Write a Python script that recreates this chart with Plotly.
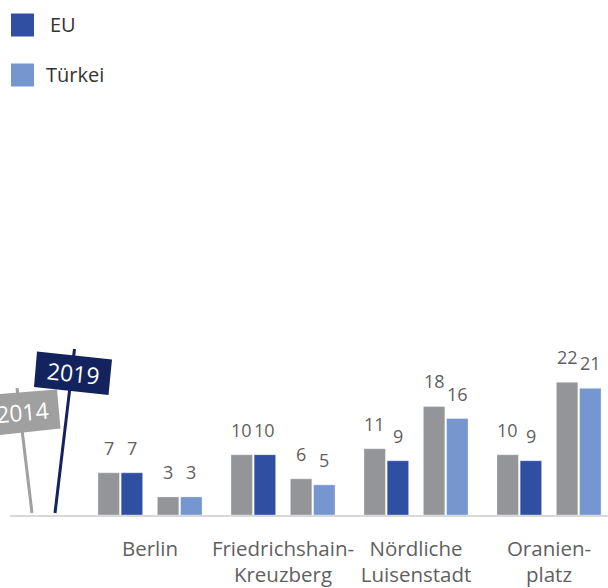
import plotly.graph_objects as go

# ---------------- data ----------------
categories = ["Berlin", "Friedrichshain-<br>Kreuzberg", "Nördliche<br>Luisenstadt", "Oranien-<br>platz"]
eu_2014 = [7, 10, 11, 10]
eu_2019 = [7, 10, 9, 9]
tr_2014 = [3, 6, 18, 22]
tr_2019 = [3, 5, 16, 21]
legend_labels = ["EU", "Türkei"]
sign_labels = ["2014", "2019"]

# ---------------- styling ----------------
W, H = 608, 588
GRAY = "#939598"
DARK = "#2f4fa3"
LIGHT = "#7596cf"
NAVY = "#13235e"
SIGN_GRAY = "#a0a0a0"
TXT = "#5f5f5f"
FONT = "Open Sans"

PX_PER_GROUP = 133.0
GROUP0_PX = 150.0
BASE_PX = 515.0
TOP_PX = 90.0
PX_PER_UNIT = 6.03

pair_off = 29.7 / PX_PER_GROUP
bar_off = 11.6 / PX_PER_GROUP
bar_w = 21.5 / PX_PER_GROUP


def xp(px):
    return px / W


def yp(py):
    return 1 - py / H


groups = list(range(len(categories)))
series = [
    (eu_2014, -pair_off - bar_off, GRAY),
    (eu_2019, -pair_off + bar_off, DARK),
    (tr_2014, pair_off - bar_off, GRAY),
    (tr_2019, pair_off + bar_off, LIGHT),
]

fig = go.Figure()
annotations = []
for vals, off, col in series:
    xs = [g + off for g in groups]
    fig.add_trace(go.Bar(
        x=xs, y=vals, width=bar_w, marker=dict(color=col, line=dict(color="rgba(255,255,255,0.35)", width=1)),
        showlegend=False, hoverinfo="y",
    ))
    for x, v in zip(xs, vals):
        annotations.append(dict(
            x=x, y=v, xref="x", yref="y", text=str(v), showarrow=False,
            xanchor="center", yanchor="bottom", yshift=11,
            font=dict(family=FONT, size=18, color=TXT),
        ))

x_lo = (10 - GROUP0_PX) / PX_PER_GROUP
x_hi = (W - GROUP0_PX) / PX_PER_GROUP
y_hi = (BASE_PX - TOP_PX) / PX_PER_UNIT

shapes = []
# manual legend
leg_cols = [DARK, LIGHT]
leg_y = [25, 75]
leg_tx = [48, 44]
for lab, col, cy, tx in zip(legend_labels, leg_cols, leg_y, leg_tx):
    shapes.append(dict(type="rect", xref="paper", yref="paper",
                       x0=xp(11), x1=xp(34), y0=yp(cy - 11.5), y1=yp(cy + 11.5),
                       fillcolor=col, line=dict(width=0)))
    annotations.append(dict(x=xp(tx), y=yp(cy), xref="paper", yref="paper", text=lab,
                            showarrow=False, xanchor="left", yanchor="middle",
                            font=dict(family=FONT, size=20, color="#333333")))


def path(pts):
    return "M " + " L ".join(f"{xp(a):.5f},{yp(b):.5f}" for a, b in pts) + " Z"


# 2014 sign (pole then board)
shapes.append(dict(type="line", xref="paper", yref="paper", x0=xp(17), y0=yp(388), x1=xp(32), y1=yp(513),
                   line=dict(color=SIGN_GRAY, width=3)))
shapes.append(dict(type="path", xref="paper", yref="paper",
                   path=path([(-12, 395), (57, 389.5), (60.5, 428.5), (-9, 436)]),
                   fillcolor=SIGN_GRAY, line=dict(width=0)))
# 2019 sign
shapes.append(dict(type="line", xref="paper", yref="paper", x0=xp(74.5), y0=yp(349), x1=xp(55), y1=yp(513),
                   line=dict(color=NAVY, width=3)))
shapes.append(dict(type="path", xref="paper", yref="paper",
                   path=path([(37, 351.5), (112, 359.5), (108.5, 395), (34, 387)]),
                   fillcolor=NAVY, line=dict(width=0)))

annotations.append(dict(x=xp(22), y=yp(412), xref="paper", yref="paper", text=sign_labels[0],
                        showarrow=False, textangle=-5, xanchor="center", yanchor="middle",
                        font=dict(family=FONT, size=23, color="#ffffff")))
annotations.append(dict(x=xp(73), y=yp(373), xref="paper", yref="paper", text=sign_labels[1],
                        showarrow=False, textangle=6, xanchor="center", yanchor="middle",
                        font=dict(family=FONT, size=23, color="#ffffff")))

fig.update_layout(
    width=W, height=H,
    margin=dict(l=0, r=0, t=0, b=0, autoexpand=False),
    paper_bgcolor="white", plot_bgcolor="white",
    barmode="overlay",
    showlegend=False,
    xaxis=dict(
        domain=[xp(10), 1], range=[x_lo, x_hi],
        tickvals=groups, ticktext=categories,
        showgrid=False, zeroline=False, automargin=False,
        showline=True, linecolor="#d9d9d9", linewidth=2,
        ticks="outside", ticklen=14, tickcolor="rgba(0,0,0,0)",
        tickfont=dict(family=FONT, size=20.5, color=TXT),
        fixedrange=True,
    ),
    yaxis=dict(
        domain=[yp(BASE_PX), yp(TOP_PX)], range=[0, y_hi],
        visible=False, fixedrange=True, automargin=False,
    ),
    shapes=shapes,
    annotations=annotations,
)

fig.write_html("out.html")
